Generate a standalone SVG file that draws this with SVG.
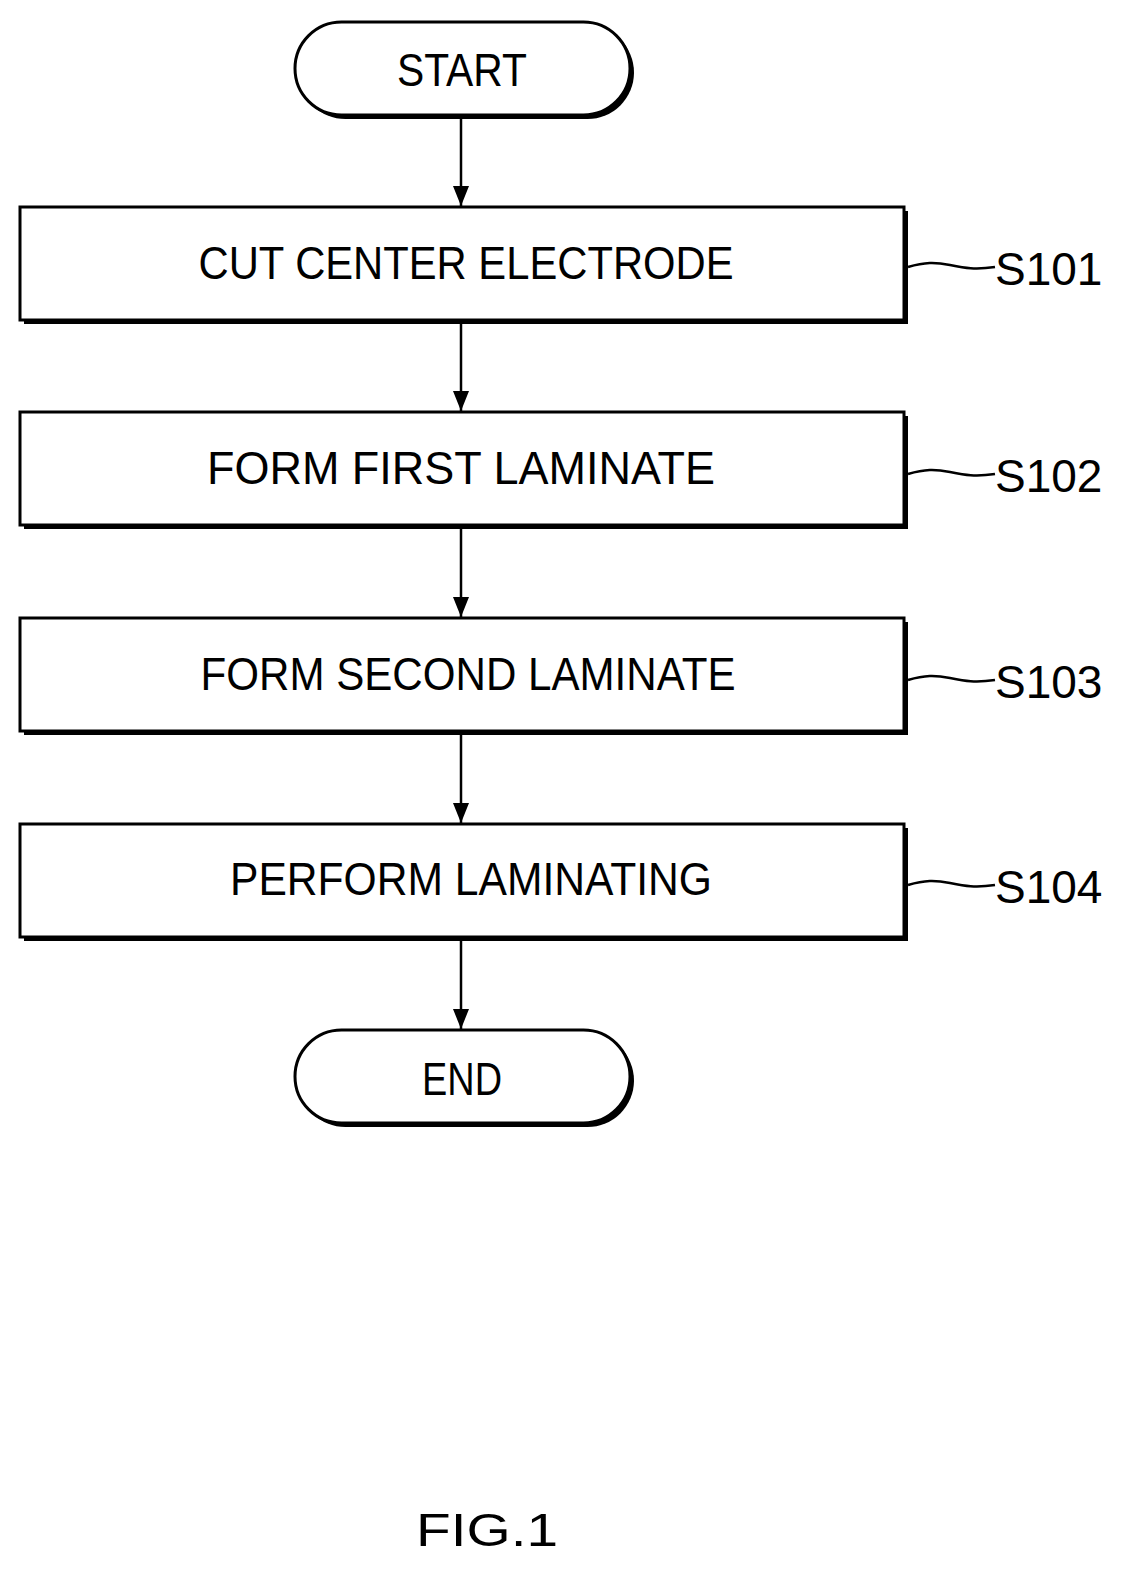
<svg xmlns="http://www.w3.org/2000/svg" width="1136" height="1589" viewBox="0 0 1136 1589">
<style>
.b{fill:#fff;stroke:#000;stroke-width:3}
.s{fill:#000}
.t{font-family:"Liberation Sans",Arial,sans-serif;font-size:46px;fill:#000;text-anchor:middle}
.l{font-family:"Liberation Sans",Arial,sans-serif;font-size:46px;fill:#000}
.c{stroke:#000;stroke-width:2.5;fill:none}
</style>
<defs><marker id="a" markerWidth="10" markerHeight="14" refX="10" refY="7" orient="auto" markerUnits="userSpaceOnUse"><path d="M0,0 L10,7 L0,14 z"/></marker>
<marker id="h" viewBox="0 0 20 16" markerWidth="20" markerHeight="16" refX="20" refY="8" orient="auto" markerUnits="userSpaceOnUse"><path d="M0,0 L20,8 L0,16 z"/></marker></defs>
<rect width="1136" height="1589" fill="#fff"/>
<g id="start"><rect x="299" y="26" width="335" height="93" rx="46.5" class="s"/><rect x="295" y="22" width="335" height="93" rx="46.5" class="b"/><text x="462" y="86" class="t" textLength="130" lengthAdjust="spacingAndGlyphs">START</text></g>
<g id="s101"><rect x="24" y="211" width="884" height="113" class="s"/><rect x="20" y="207" width="884" height="113" class="b"/><text x="466" y="279" class="t" textLength="535" lengthAdjust="spacingAndGlyphs">CUT CENTER ELECTRODE</text><path class="c" d="M908 267 C925 262 935 262 950 265 S975 270 995 267"/><text x="995" y="285" class="l">S101</text></g>
<g id="s102"><rect x="24" y="416" width="884" height="113" class="s"/><rect x="20" y="412" width="884" height="113" class="b"/><text x="461" y="484" class="t" textLength="508" lengthAdjust="spacingAndGlyphs">FORM FIRST LAMINATE</text><path class="c" d="M908 474 C925 469 935 469 950 472 S975 477 995 474"/><text x="995" y="492" class="l">S102</text></g>
<g id="s103"><rect x="24" y="622" width="884" height="113" class="s"/><rect x="20" y="618" width="884" height="113" class="b"/><text x="468" y="690" class="t" textLength="535" lengthAdjust="spacingAndGlyphs">FORM SECOND LAMINATE</text><path class="c" d="M908 680 C925 675 935 675 950 678 S975 683 995 680"/><text x="995" y="698" class="l">S103</text></g>
<g id="s104"><rect x="24" y="828" width="884" height="113" class="s"/><rect x="20" y="824" width="884" height="113" class="b"/><text x="471" y="895" class="t" textLength="482" lengthAdjust="spacingAndGlyphs">PERFORM LAMINATING</text><path class="c" d="M908 885 C925 880 935 880 950 883 S975 888 995 885"/><text x="995" y="903" class="l">S104</text></g>
<g id="end"><rect x="299" y="1034" width="335" height="93" rx="46.5" class="s"/><rect x="295" y="1030" width="335" height="93" rx="46.5" class="b"/><text x="462" y="1095" class="t" textLength="80" lengthAdjust="spacingAndGlyphs">END</text></g>
<g id="connectors" class="c" marker-end="url(#h)">
<line x1="461" y1="119" x2="461" y2="206"/>
<line x1="461" y1="324" x2="461" y2="411"/>
<line x1="461" y1="529" x2="461" y2="617"/>
<line x1="461" y1="735" x2="461" y2="823"/>
<line x1="461" y1="941" x2="461" y2="1029"/>
</g>
<text x="487" y="1546" class="t" textLength="142" lengthAdjust="spacingAndGlyphs">FIG.1</text>
</svg>
